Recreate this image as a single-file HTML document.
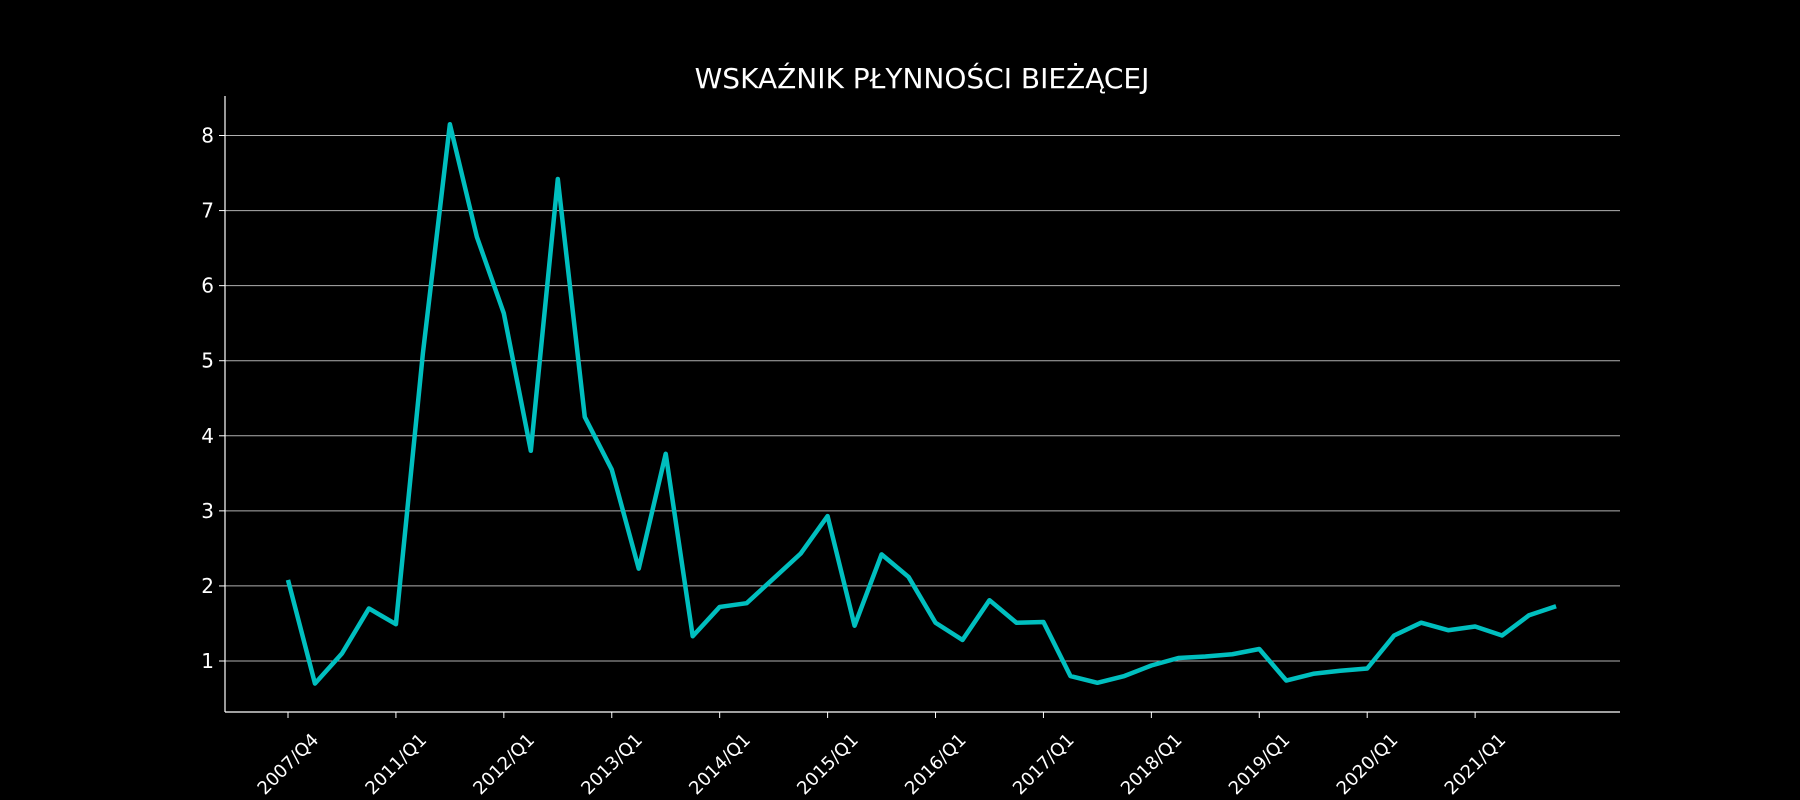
<!DOCTYPE html>
<html><head><meta charset="utf-8"><style>
html,body{margin:0;padding:0;background:#000;}
svg{display:block;font-family:"DejaVu Sans","Liberation Sans",sans-serif;}
</style></head><body>
<svg id="chart" width="1800" height="800" viewBox="0 0 1800 800" xmlns="http://www.w3.org/2000/svg">
<rect width="1800" height="800" fill="#000"/>
<text x="922" y="88" fill="#fff" font-size="28" text-anchor="middle">WSKAŹNIK PŁYNNOŚCI BIEŻĄCEJ</text>
<g id="grid"></g><g id="axes"></g><g id="series"></g>
</svg>
<script>
const categories=["2007/Q4","2010/Q2","2010/Q3","2010/Q4","2011/Q1","2011/Q2","2011/Q3","2011/Q4","2012/Q1","2012/Q2","2012/Q3","2012/Q4","2013/Q1","2013/Q2","2013/Q3","2013/Q4","2014/Q1","2014/Q2","2014/Q3","2014/Q4","2015/Q1","2015/Q2","2015/Q3","2015/Q4","2016/Q1","2016/Q2","2016/Q3","2016/Q4","2017/Q1","2017/Q2","2017/Q3","2017/Q4","2018/Q1","2018/Q2","2018/Q3","2018/Q4","2019/Q1","2019/Q2","2019/Q3","2019/Q4","2020/Q1","2020/Q2","2020/Q3","2020/Q4","2021/Q1","2021/Q2","2021/Q3","2021/Q4"];
const values=[2.08,0.70,1.10,1.70,1.49,5.10,8.15,6.65,5.63,3.80,7.42,4.25,3.55,2.23,3.76,1.33,1.72,1.77,2.10,2.43,2.93,1.47,2.42,2.12,1.51,1.28,1.81,1.51,1.52,0.80,0.71,0.80,0.94,1.04,1.06,1.09,1.16,0.74,0.83,0.87,0.90,1.34,1.51,1.41,1.46,1.34,1.61,1.73];
const yTicks=[1,2,3,4,5,6,7,8];
const tickEvery=4;
const NS="http://www.w3.org/2000/svg";
const L=225,R=1620,T=96,B=712;
function x(i){return 288+i*26.98;}
function y(v){return 661-(v-1)*75.07;}
function mk(tag,attrs,parent){const e=document.createElementNS(NS,tag);for(const k in attrs)e.setAttribute(k,attrs[k]);parent.appendChild(e);return e;}
const grid=document.getElementById('grid'),axes=document.getElementById('axes'),series=document.getElementById('series');
yTicks.forEach(v=>{
 const g=mk('line',{x1:L,x2:R,y1:y(v),y2:y(v),stroke:'#b0b0b0','stroke-width':1},grid);
 
 
 const tk=mk('line',{x1:L-6,x2:L,y1:y(v),y2:y(v),stroke:'#fff','stroke-width':1},axes);
 
 
 const t=mk('text',{x:L-11,y:y(v)+7,fill:'#fff','font-size':20,'text-anchor':'end'},axes);
 t.textContent=v;
 
 
});
const ya=mk('line',{x1:L,x2:L,y1:T,y2:B,stroke:'#fff','stroke-width':1.2},axes);


const xa=mk('line',{x1:L,x2:R,y1:B,y2:B,stroke:'#fff','stroke-width':1.2},axes);


categories.forEach((c,i)=>{
 if(i%tickEvery) return;
 const tk=mk('line',{x1:x(i),x2:x(i),y1:B,y2:B+6,stroke:'#fff','stroke-width':1},axes);
 
 
 const cy=B+52;
 const t=mk('text',{x:x(i),y:cy+6,fill:'#fff','font-size':18,'text-anchor':'middle',transform:`rotate(-45 ${x(i)} ${cy})`},axes);
 t.textContent=c;
 
 
});
const p=mk('polyline',{points:values.map((v,i)=>x(i)+','+y(v)).join(' '),fill:'none',stroke:'#00bfbf','stroke-width':4.5,'stroke-linejoin':'round'},series);


</script>
</body></html>
